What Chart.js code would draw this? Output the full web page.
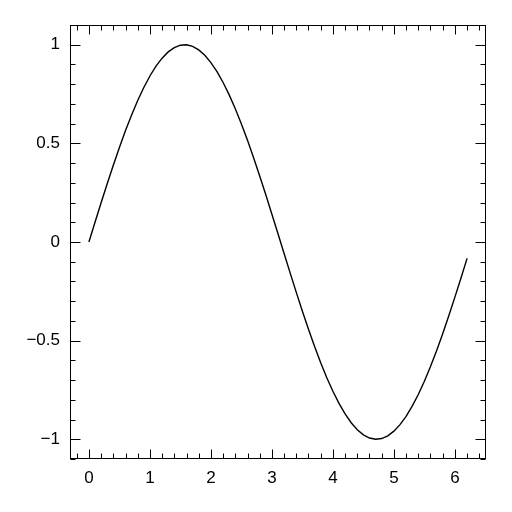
<!DOCTYPE html>
<html>
<head>
<meta charset="utf-8">
<script src="https://cdn.jsdelivr.net/npm/chart.js@4/dist/chart.umd.min.js"></script>
<style>
  html, body { margin: 0; padding: 0; background: #fff; }
  #wrap { width: 512px; height: 512px; }
</style>
</head>
<body>
<div id="wrap"><canvas id="chart" width="512" height="512"></canvas></div>
<script>
"use strict";

// ── data ─────────────────────────────────────────────────────────────────────
const xValues = [
  0.0, 0.1, 0.2, 0.3, 0.4, 0.5, 0.6, 0.7, 0.8, 0.9,
  1.0, 1.1, 1.2, 1.3, 1.4, 1.5, 1.6, 1.7, 1.8, 1.9,
  2.0, 2.1, 2.2, 2.3, 2.4, 2.5, 2.6, 2.7, 2.8, 2.9,
  3.0, 3.1, 3.2, 3.3, 3.4, 3.5, 3.6, 3.7, 3.8, 3.9,
  4.0, 4.1, 4.2, 4.3, 4.4, 4.5, 4.6, 4.7, 4.8, 4.9,
  5.0, 5.1, 5.2, 5.3, 5.4, 5.5, 5.6, 5.7, 5.8, 5.9,
  6.0, 6.1, 6.2,
];
const yValues = [
  0.0000, 0.0998, 0.1987, 0.2955, 0.3894, 0.4794, 0.5646, 0.6442, 0.7174, 0.7833,
  0.8415, 0.8912, 0.9320, 0.9636, 0.9854, 0.9975, 0.9996, 0.9917, 0.9738, 0.9463,
  0.9093, 0.8632, 0.8085, 0.7457, 0.6755, 0.5985, 0.5155, 0.4274, 0.3350, 0.2392,
  0.1411, 0.0416, -0.0584, -0.1577, -0.2555, -0.3508, -0.4425, -0.5298, -0.6119, -0.6878,
  -0.7568, -0.8183, -0.8716, -0.9162, -0.9516, -0.9775, -0.9937, -0.9999, -0.9962, -0.9825,
  -0.9589, -0.9258, -0.8835, -0.8323, -0.7728, -0.7055, -0.6313, -0.5507, -0.4646, -0.3739,
  -0.2794, -0.1822, -0.0831,
];
const xTicks = [0, 1, 2, 3, 4, 5, 6];
const yTicks = [-1, -0.5, 0, 0.5, 1];
const xMinorStep = 0.2;
const yMinorStep = 0.1;

// ── inward ticks + frame, drawn from the chart's own scales ──────────────────
const frameTicks = {
  id: "frameTicks",
  afterDraw(chart) {
    const ctx = chart.ctx;
    const a = chart.chartArea;
    const xs = chart.scales.x, ys = chart.scales.y;
    const L = Math.round(a.left) + 0.5, R = Math.round(a.right) - 0.5;
    const T = Math.round(a.top) + 0.5, B = Math.round(a.bottom) - 0.5;
    ctx.save();
    ctx.strokeStyle = "#000";
    ctx.lineWidth = 1;
    ctx.beginPath();
    const tick = (v, len, isX) => {
      if (isX) {
        const p = Math.round(xs.getPixelForValue(v)) + 0.5;
        ctx.moveTo(p, B); ctx.lineTo(p, B - len);
        ctx.moveTo(p, T); ctx.lineTo(p, T + len);
      } else {
        const p = Math.round(ys.getPixelForValue(v)) + 0.5;
        ctx.moveTo(L, p); ctx.lineTo(L + len, p);
        ctx.moveTo(R, p); ctx.lineTo(R - len, p);
      }
    };
    for (let i = Math.ceil(xs.min / xMinorStep); i * xMinorStep <= xs.max; i++) {
      const v = +(i * xMinorStep).toFixed(6);
      tick(v, xTicks.includes(v) ? 9 : 5, true);
    }
    for (let i = Math.ceil(ys.min / yMinorStep); i * yMinorStep <= ys.max; i++) {
      const v = +(i * yMinorStep).toFixed(6);
      tick(v, yTicks.includes(v) ? 10 : 5, false);
    }
    ctx.stroke();
    ctx.strokeRect(L, T, R - L, B - T);
    ctx.restore();
  },
};

const tickFont = { family: "'Liberation Sans', Arial, Helvetica, sans-serif", size: 17 };
const fmt = v => String(v).replace("-", "\u2212");

new Chart(document.getElementById("chart"), {
  type: "scatter",
  data: {
    datasets: [{
      data: xValues.map((x, i) => ({ x, y: yValues[i] })),
      showLine: true,
      borderColor: "#000",
      borderWidth: 1.4,
      pointRadius: 0,
      tension: 0,
    }],
  },
  options: {
    responsive: false,
    animation: false,
    events: [],
    layout: { padding: { left: 0, right: 26, top: 25, bottom: 0 } },
    plugins: { legend: { display: false }, tooltip: { enabled: false } },
    scales: {
      x: {
        type: "linear",
        min: -0.31, max: 6.51,
        grid: { display: false },
        border: { display: false },
        afterBuildTicks: s => { s.ticks = xTicks.map(v => ({ value: v })); },
        afterFit: s => { s.height = 53; },
        ticks: { color: "#000", font: tickFont, padding: 1, callback: fmt, maxRotation: 0 },
      },
      y: {
        type: "linear",
        min: -1.1, max: 1.1,
        grid: { display: false },
        border: { display: false },
        afterBuildTicks: s => { s.ticks = yTicks.map(v => ({ value: v })); },
        afterFit: s => { s.width = 70; },
        ticks: { color: "#000", font: tickFont, padding: 2, callback: fmt },
      },
    },
  },
  plugins: [frameTicks],
});
</script>
</body>
</html>
